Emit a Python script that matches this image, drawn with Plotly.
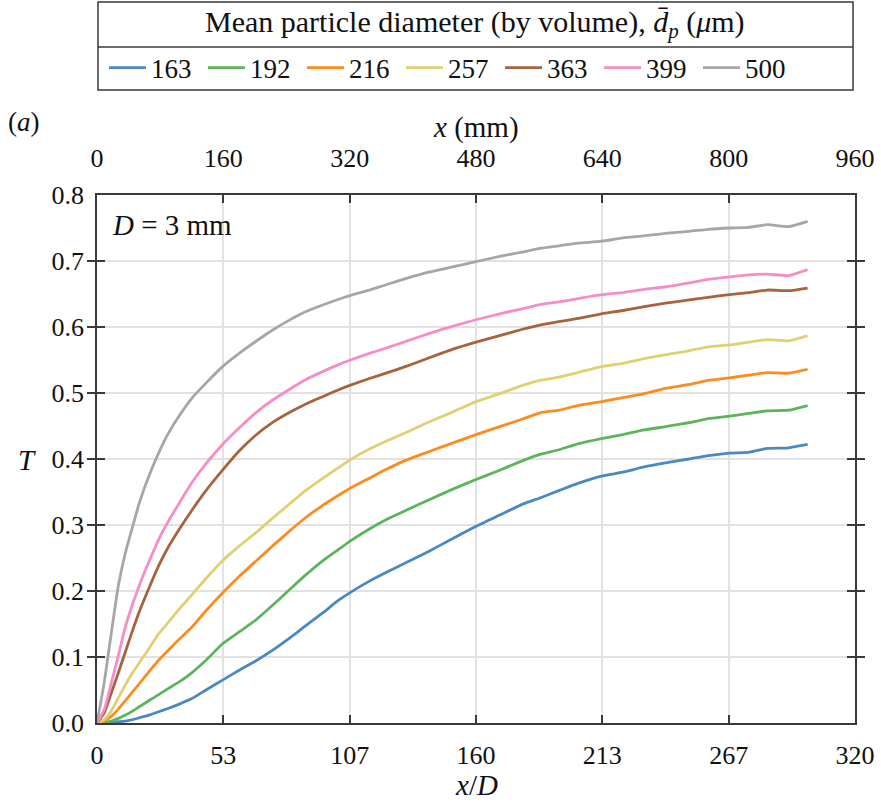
import plotly.graph_objects as go

# Axial position, x/D
x_over_d = [0, 3, 6, 9, 12, 15, 18, 22, 26, 30, 35, 40, 46, 53, 60, 67, 74, 81, 88, 95,
            102, 107, 115, 122, 131, 140, 150, 160, 170, 180, 187, 195, 203, 213, 222,
            231, 240, 250, 258, 267, 275, 283, 292, 300]

# Mean particle diameter (by volume), micrometres
diameters = ["163", "192", "216", "257", "363", "399", "500"]

T_163 = [0, 0.000, 0.001, 0.002, 0.003, 0.005, 0.008, 0.012, 0.017, 0.022, 0.029, 0.037, 0.050, 0.065,
         0.080, 0.094, 0.110, 0.128, 0.147, 0.166, 0.186, 0.198, 0.215, 0.228, 0.244, 0.260, 0.279,
         0.298, 0.315, 0.332, 0.341, 0.352, 0.363, 0.374, 0.380, 0.388, 0.394, 0.400, 0.405, 0.409,
         0.410, 0.416, 0.417, 0.422]
T_192 = [0, 0.001, 0.003, 0.007, 0.012, 0.018, 0.025, 0.034, 0.043, 0.052, 0.063, 0.076, 0.095, 0.120,
         0.138, 0.156, 0.178, 0.201, 0.224, 0.245, 0.263, 0.276, 0.294, 0.308, 0.323, 0.338, 0.354,
         0.369, 0.383, 0.398, 0.407, 0.414, 0.423, 0.431, 0.437, 0.444, 0.449, 0.455, 0.461, 0.465,
         0.469, 0.473, 0.474, 0.481]
T_216 = [0, 0.003, 0.010, 0.021, 0.034, 0.047, 0.060, 0.078, 0.095, 0.110, 0.128, 0.145, 0.170, 0.197,
         0.222, 0.245, 0.268, 0.290, 0.311, 0.329, 0.345, 0.356, 0.371, 0.384, 0.399, 0.411, 0.424,
         0.437, 0.449, 0.461, 0.470, 0.474, 0.481, 0.487, 0.493, 0.499, 0.507, 0.513, 0.519, 0.523,
         0.527, 0.531, 0.530, 0.536]
T_257 = [0, 0.005, 0.018, 0.038, 0.058, 0.076, 0.092, 0.113, 0.135, 0.152, 0.174, 0.194, 0.219, 0.246,
         0.268, 0.288, 0.310, 0.331, 0.352, 0.370, 0.387, 0.399, 0.415, 0.427, 0.441, 0.456, 0.471,
         0.487, 0.499, 0.512, 0.519, 0.524, 0.531, 0.540, 0.545, 0.552, 0.558, 0.564, 0.570, 0.573,
         0.577, 0.581, 0.579, 0.587]
T_363 = [0, 0.015, 0.045, 0.076, 0.108, 0.140, 0.170, 0.205, 0.238, 0.266, 0.295, 0.322, 0.352, 0.383,
         0.412, 0.436, 0.455, 0.470, 0.483, 0.494, 0.505, 0.512, 0.522, 0.530, 0.541, 0.553, 0.566,
         0.577, 0.587, 0.597, 0.603, 0.608, 0.613, 0.620, 0.625, 0.631, 0.636, 0.641, 0.645, 0.649,
         0.652, 0.656, 0.655, 0.659]
T_399 = [0, 0.020, 0.060, 0.102, 0.146, 0.180, 0.210, 0.245, 0.278, 0.305, 0.335, 0.364, 0.393, 0.422,
         0.447, 0.470, 0.489, 0.505, 0.520, 0.532, 0.543, 0.550, 0.560, 0.568, 0.579, 0.590, 0.601,
         0.611, 0.620, 0.628, 0.634, 0.638, 0.643, 0.649, 0.652, 0.657, 0.661, 0.667, 0.672, 0.676,
         0.679, 0.680, 0.678, 0.687]
T_500 = [0, 0.060, 0.135, 0.208, 0.258, 0.297, 0.335, 0.375, 0.409, 0.438, 0.467, 0.492, 0.515, 0.540,
         0.560, 0.578, 0.595, 0.610, 0.623, 0.633, 0.642, 0.648, 0.656, 0.664, 0.674, 0.683, 0.691,
         0.699, 0.707, 0.714, 0.719, 0.723, 0.727, 0.730, 0.735, 0.738, 0.742, 0.745, 0.748, 0.750,
         0.751, 0.755, 0.752, 0.760]

series = [T_163, T_192, T_216, T_257, T_363, T_399, T_500]
colors = ["#4a88c2", "#5cb55a", "#ff8b1e", "#dfd172", "#a8633b", "#f78cc8", "#a6a6a6"]

# Tick positions: bottom axis in x/D, top axis in mm (D = 3 mm)
D_mm = 3
mm_ticks = [0, 160, 320, 480, 640, 800, 960]
xd_tickvals = [m / D_mm for m in mm_ticks]
xd_ticktext = ["0", "53", "107", "160", "213", "267", "320"]
y_ticks = [0.0, 0.1, 0.2, 0.3, 0.4, 0.5, 0.6, 0.7, 0.8]

FONT = "Liberation Serif"
AX = "#3a3a3a"
GRID = "#e2e2e2"
TICK_SIZE = 26

fig = go.Figure()
for name, ys, col in zip(diameters, series, colors):
    fig.add_trace(go.Scatter(x=x_over_d, y=ys, mode="lines", name=name,
                             line=dict(color=col, width=2.8, shape="spline", smoothing=0.5)))

# The same widest profile expressed in millimetres carries the top (mm) axis
fig.add_trace(go.Scatter(x=[v * D_mm for v in x_over_d], y=T_500, xaxis="x2", mode="lines",
                         line=dict(width=0, color="rgba(0,0,0,0)"), opacity=0,
                         showlegend=False, hoverinfo="skip"))

fig.update_layout(
    width=881, height=807,
    margin=dict(l=97, r=26, t=195, b=84, autoexpand=False),
    paper_bgcolor="white", plot_bgcolor="white",
    font=dict(family=FONT, size=TICK_SIZE, color="#111"),
    showlegend=True,
    legend=dict(orientation="h", x=0.0092, xanchor="left", y=1.2405, yanchor="middle",
                bgcolor="rgba(0,0,0,0)", borderwidth=0, itemwidth=37,
                entrywidth=47, entrywidthmode="pixels",
                font=dict(family=FONT, size=27), tracegroupgap=0),
    xaxis=dict(range=[0, 320], tickvals=xd_tickvals, ticktext=xd_ticktext,
               showline=True, linecolor=AX, linewidth=1.6, mirror="allticks",
               ticks="inside", ticklen=8, tickwidth=1.6, tickcolor=AX,
               showgrid=True, gridcolor=GRID, gridwidth=1.5, zeroline=False,
               ticklabelstandoff=8, tickfont=dict(size=TICK_SIZE)),
    xaxis2=dict(range=[0, 960], tickvals=mm_ticks, overlaying="x", side="top",
                anchor="y", showline=False, ticks="", showgrid=False, zeroline=False,
                ticklabelstandoff=22, tickfont=dict(size=TICK_SIZE)),
    yaxis=dict(range=[0, 0.8], tickvals=y_ticks, tickformat=".1f",
               showline=True, linecolor=AX, linewidth=1.6, mirror="allticks",
               ticks="inside", ticklen=8, tickwidth=1.6, tickcolor=AX,
               showgrid=True, gridcolor=GRID, gridwidth=1.5, zeroline=False,
               ticklabelstandoff=6, tickfont=dict(size=TICK_SIZE)),
)

# Legend frame with a header row
fig.add_shape(type="rect", xref="paper", yref="paper", x0=0.0013, x1=0.9974,
              y0=1.1989, y1=1.3655, line=dict(color=AX, width=1.5))
fig.add_shape(type="line", xref="paper", yref="paper", x0=0.0013, x1=0.9974,
              y0=1.2803, y1=1.2803, line=dict(color=AX, width=1.5))


def label(text, x, y, size, xanchor="center"):
    fig.add_annotation(xref="paper", yref="paper", x=x, y=y, text=text, showarrow=False,
                       xanchor=xanchor, yanchor="middle", font=dict(size=size))


label("Mean particle diameter (by volume), <i>d\u0304</i><sub><i>p</i></sub> (<i>\u03bc</i>m)",
      0.4987, 1.3239, 30)

# Axis titles and panel labels
label("<i>x</i> (mm)", 0.5, 1.1269, 29)
label("<i>x</i>/<i>D</i>", 0.5, -0.1174, 29)
label("<i>T</i>", -0.092, 0.498, 29)
label("(<i>a</i>)", -0.0963, 1.1384, 27)
label("<i>D</i> = 3 mm", 0.0172, 0.9432, 29, xanchor="left")

fig.write_html("out.html")
